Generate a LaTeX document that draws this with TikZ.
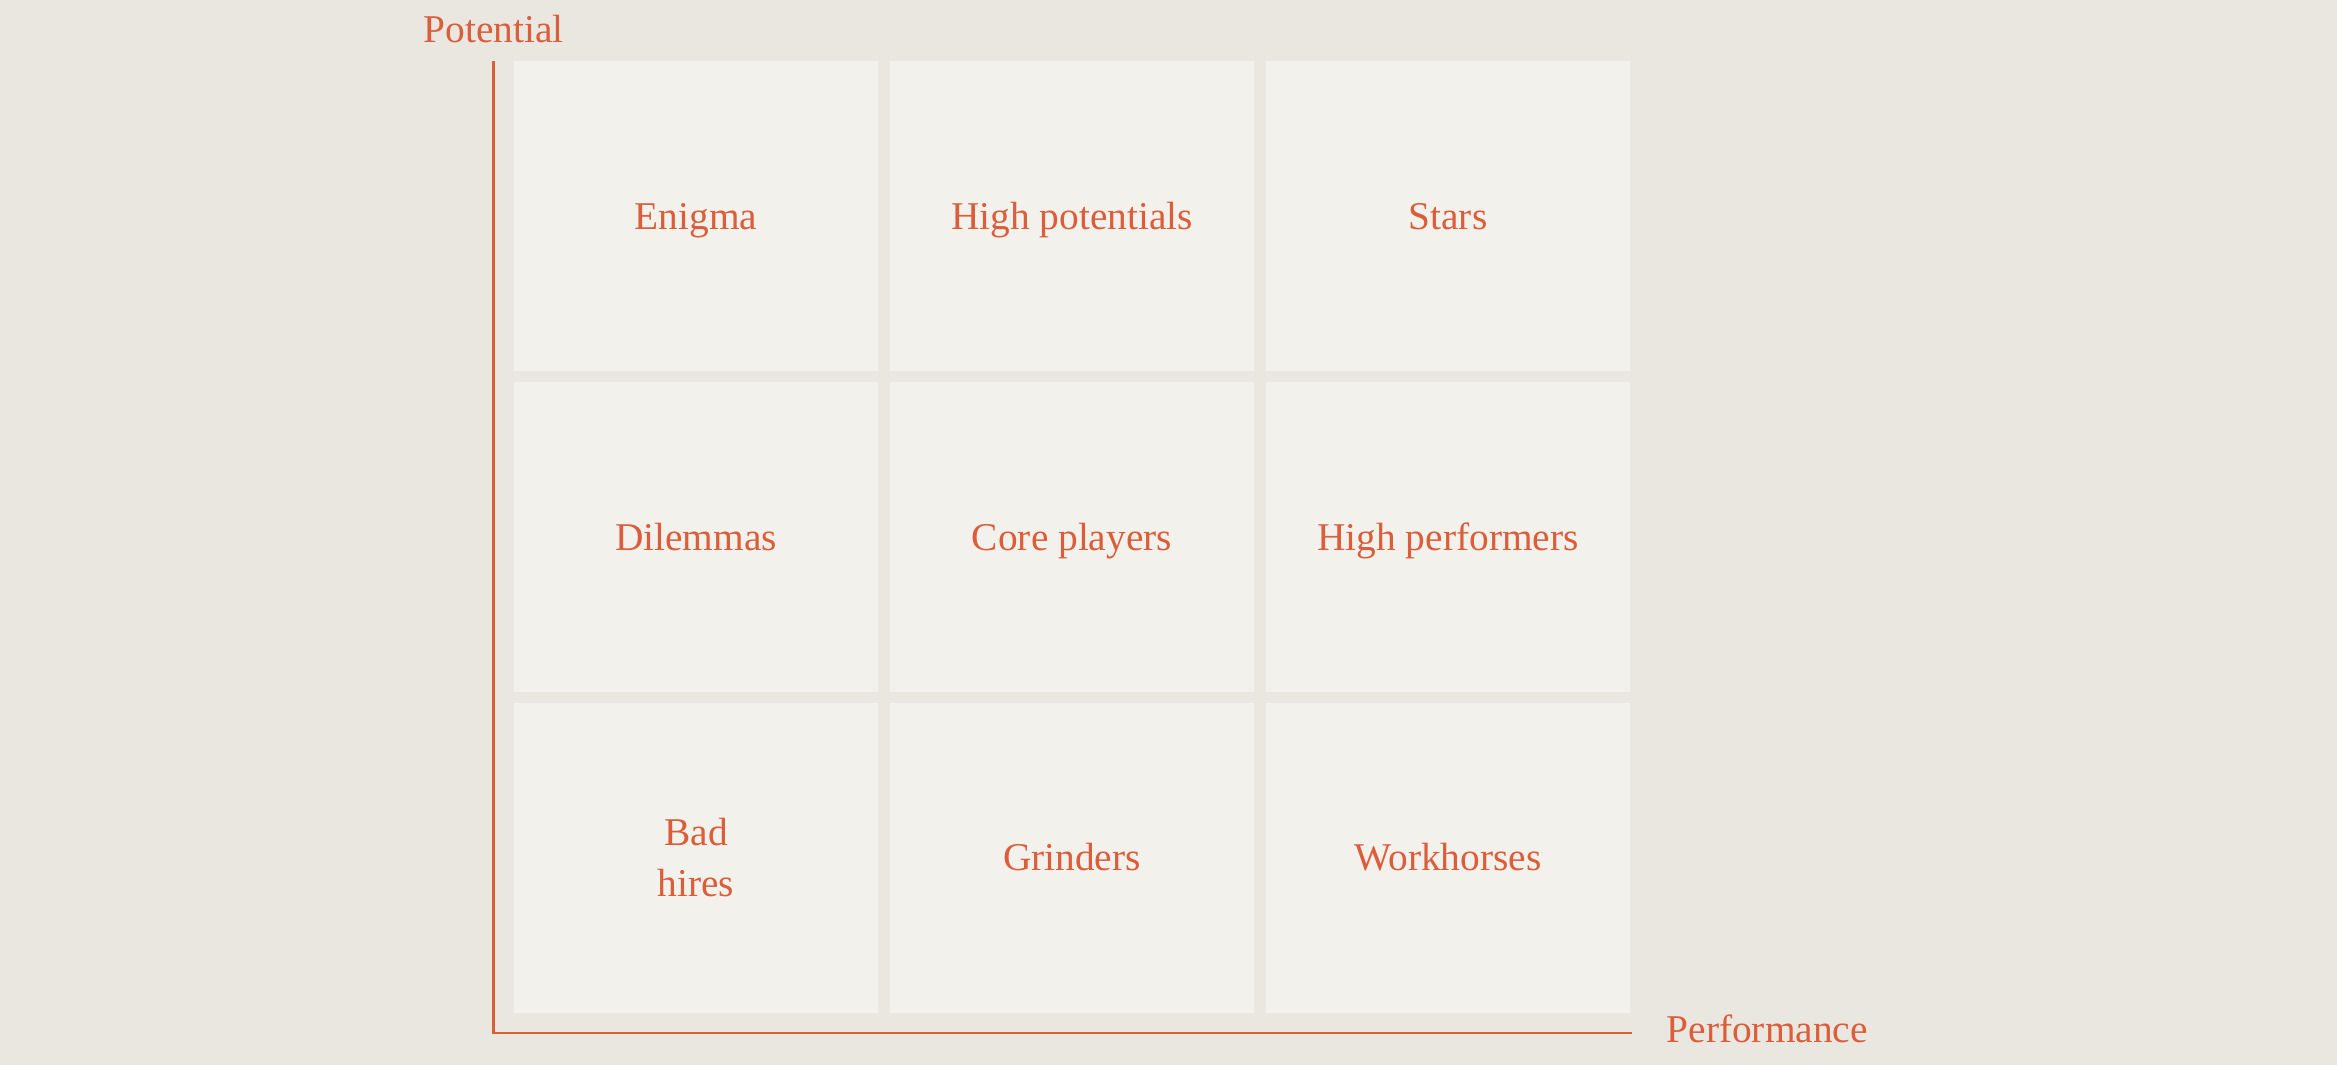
\documentclass[tikz,border=0pt]{standalone}
\usepackage{fontspec}
\setmainfont{Liberation Serif}
\definecolor{pagebg}{HTML}{EAE7E0}
\definecolor{cellbg}{HTML}{F3F1EC}
\definecolor{accent}{HTML}{DB5D3A}
\tikzset{
  cellbox/.style={fill=cellbg, minimum width=3.64cm, minimum height=3.10cm,
    inner sep=0pt, align=center, text=accent, font=\fontsize{11.2}{14.7}\selectfont},
  cell/.style={cellbox, text height=7.4pt, text depth=0pt},
  axislabel/.style={text=accent, inner sep=0pt, font=\fontsize{11.2}{14.7}\selectfont},
  axisline/.style={draw=accent, line width=0.6pt}
}
\begin{document}
\begin{tikzpicture}
  \fill[pagebg] (0.00, 0.00) rectangle (23.37, -10.65);
  \useasboundingbox (0.00, 0.00) rectangle (23.37, -10.65);
  \node[cell] (enigma) at (6.96, -2.16) {Enigma};
  \node[cell] (highpot) at (10.72, -2.16) {High potentials};
  \node[cell] (stars) at (14.48, -2.16) {Stars};
  \node[cell] (dilemmas) at (6.96, -5.37) {Dilemmas};
  \node[cell] (core) at (10.72, -5.37) {Core players};
  \node[cell] (highperf) at (14.48, -5.37) {High performers};
  \node[cellbox] (badhires) at (6.96, -8.575) {Bad\\hires};
  \node[cell] (grinders) at (10.72, -8.575) {Grinders};
  \node[cell] (workhorses) at (14.48, -8.575) {Workhorses};
  \coordinate (ytop) at (4.935, -0.61);
  \coordinate (origin) at (4.935, -10.33);
  \coordinate (xend) at (16.32, -10.33);
  \draw[axisline] (ytop) -- (origin) -- (xend);
  \node[axislabel, anchor=base] (potential) at (4.935, -0.42) {Potential};
  \node[axislabel, anchor=base west] (performance) at (16.66, -10.42) {Performance};
\end{tikzpicture}
\end{document}
